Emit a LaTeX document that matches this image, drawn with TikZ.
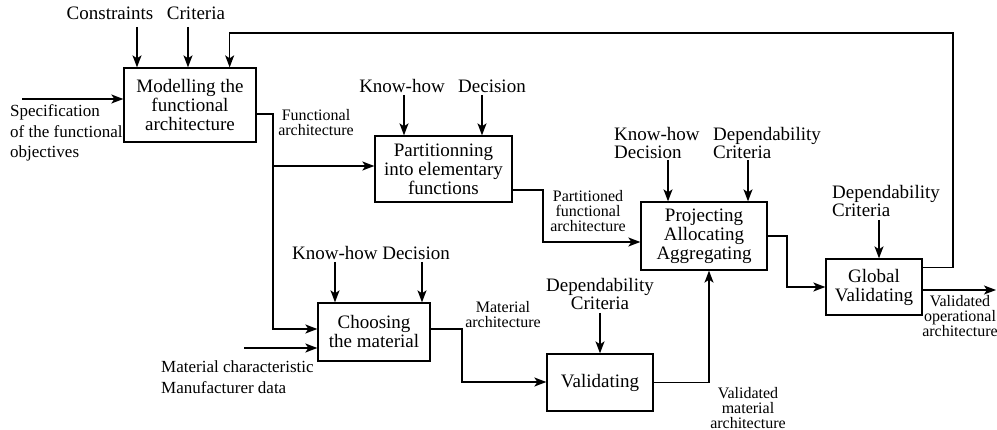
\documentclass[tikz,border=0pt]{standalone}
\usepackage{fontspec}
\setmainfont{Liberation Serif}
\usetikzlibrary{arrows.meta}
\tikzset{
  block/.style={draw, line width=1.3pt, align=center, inner sep=0pt, font=\fontsize{19}{19}\selectfont},
  biglabel/.style={align=left, inner sep=0pt, font=\fontsize{19}{18}\selectfont},
  smalllabel/.style={align=center, inner sep=0pt, font=\fontsize{16}{15}\selectfont},
  inlabel/.style={align=left, inner sep=0pt, anchor=west, font=\fontsize{17}{20.5}\selectfont},
  flow/.style={line width=1.3pt, -{Stealth[length=12pt,width=9pt,inset=3pt]}},
  wire/.style={line width=1.3pt}
}

\begin{document}
\begin{tikzpicture}[x=1pt,y=-1pt]
\useasboundingbox (0,0) rectangle (997,430);
% the six activities
\node[block, minimum width=132pt, minimum height=74pt] (model) at (190,105) {Modelling the\\functional\\architecture};
\node[block, minimum width=137pt, minimum height=66pt] (partition) at (443.5,169) {Partitionning\\into elementary\\functions};
\node[block, minimum width=126pt, minimum height=68pt] (project) at (704,236) {Projecting\\Allocating\\Aggregating};
\node[block, minimum width=96pt, minimum height=56pt] (global) at (874,287) {Global\\Validating};
\node[block, minimum width=112pt, minimum height=58pt] (choose) at (374,332) {Choosing\\the material};
\node[block, minimum width=106pt, minimum height=57pt] (valid) at (600,382.5) {Validating};

% controls above the boxes
\node[biglabel, anchor=base] (constr) at (110,20) {Constraints};
\node[biglabel, anchor=base] (crit) at (196,20) {Criteria};
\node[biglabel, anchor=base] (knowp) at (402,93) {Know-how};
\node[biglabel, anchor=base] (decp) at (492,93) {Decision};
\node[biglabel, anchor=west] (knowproj) at (614,143) {Know-how\\Decision};
\node[biglabel, anchor=west] (depproj) at (713,143) {Dependability\\Criteria};
\node[biglabel, anchor=west] (depglob) at (832,201) {Dependability\\Criteria};
\node[biglabel, anchor=base] (knowch) at (371,260) {Know-how Decision};
\node[biglabel, align=center] (depval) at (600,294.5) {Dependability\\Criteria};

\foreach \n/\x/\y/\b in {a/137/27/model, b/188/27/model, c/404/95/partition, d/482/95/partition,
    e/668/160/project, f/748/160/project, g/879/220/global, h/335/262/choose, i/422/262/choose, j/600/313/valid}{
  \coordinate (top\n) at (\x,\y);
  \draw[flow] (top\n) -- (top\n |- \b.north);
}

% inputs
\coordinate (specin) at (22,99);
\draw[flow] (specin) -- (specin -| model.west);
\node[inlabel] (spec) at (10,133) {Specification\\of the functional\\objectives};
\coordinate (matin) at (244,348);
\draw[flow] (matin) -- (matin -| choose.west);
\node[inlabel, font=\fontsize{17}{21}\selectfont] (mat) at (161,377.5) {Material characteristic\\Manufacturer data};

% flows between the activities
\coordinate (split) at (273,166);
\draw[wire] ([yshift=-9pt]model.east) -| (split);
\draw[flow] (split) -- (split -| partition.west);
\draw[flow] (split) |- ([yshift=3pt]choose.west);
\node[smalllabel] (funarch) at (316,122.5) {Functional\\architecture};

\coordinate (pbend) at (543,242);
\draw[flow] ([yshift=-21pt]partition.east) -| (pbend) -- (pbend -| project.west);
\node[smalllabel] (partarch) at (588,211) {Partitioned\\functional\\architecture};

\coordinate (cbend) at (462,382);
\draw[flow] ([yshift=3pt]choose.east) -| (cbend) -- (cbend -| valid.west);
\node[smalllabel] (matarch) at (503,315) {Material\\architecture};

\draw[flow] (valid.east) -| ([xshift=5pt]project.south);
\node[smalllabel] (valarch) at (748,408) {Validated\\material\\architecture};

\coordinate (gbend) at (787,287);
\draw[flow] (project.east) -| (gbend) -- (global.west);

\coordinate (gout) at (996,290);
\draw[flow] (gout -| global.east) -- (gout);
\node[smalllabel] (oparch) at (960,316) {Validated\\operational\\architecture};

% feedback to the first activity
\coordinate (fb) at (953,33);
\draw[flow] ([yshift=-9pt]global.north east) -| (fb) -| ([xshift=-27pt]model.north east);
\end{tikzpicture}
\end{document}
